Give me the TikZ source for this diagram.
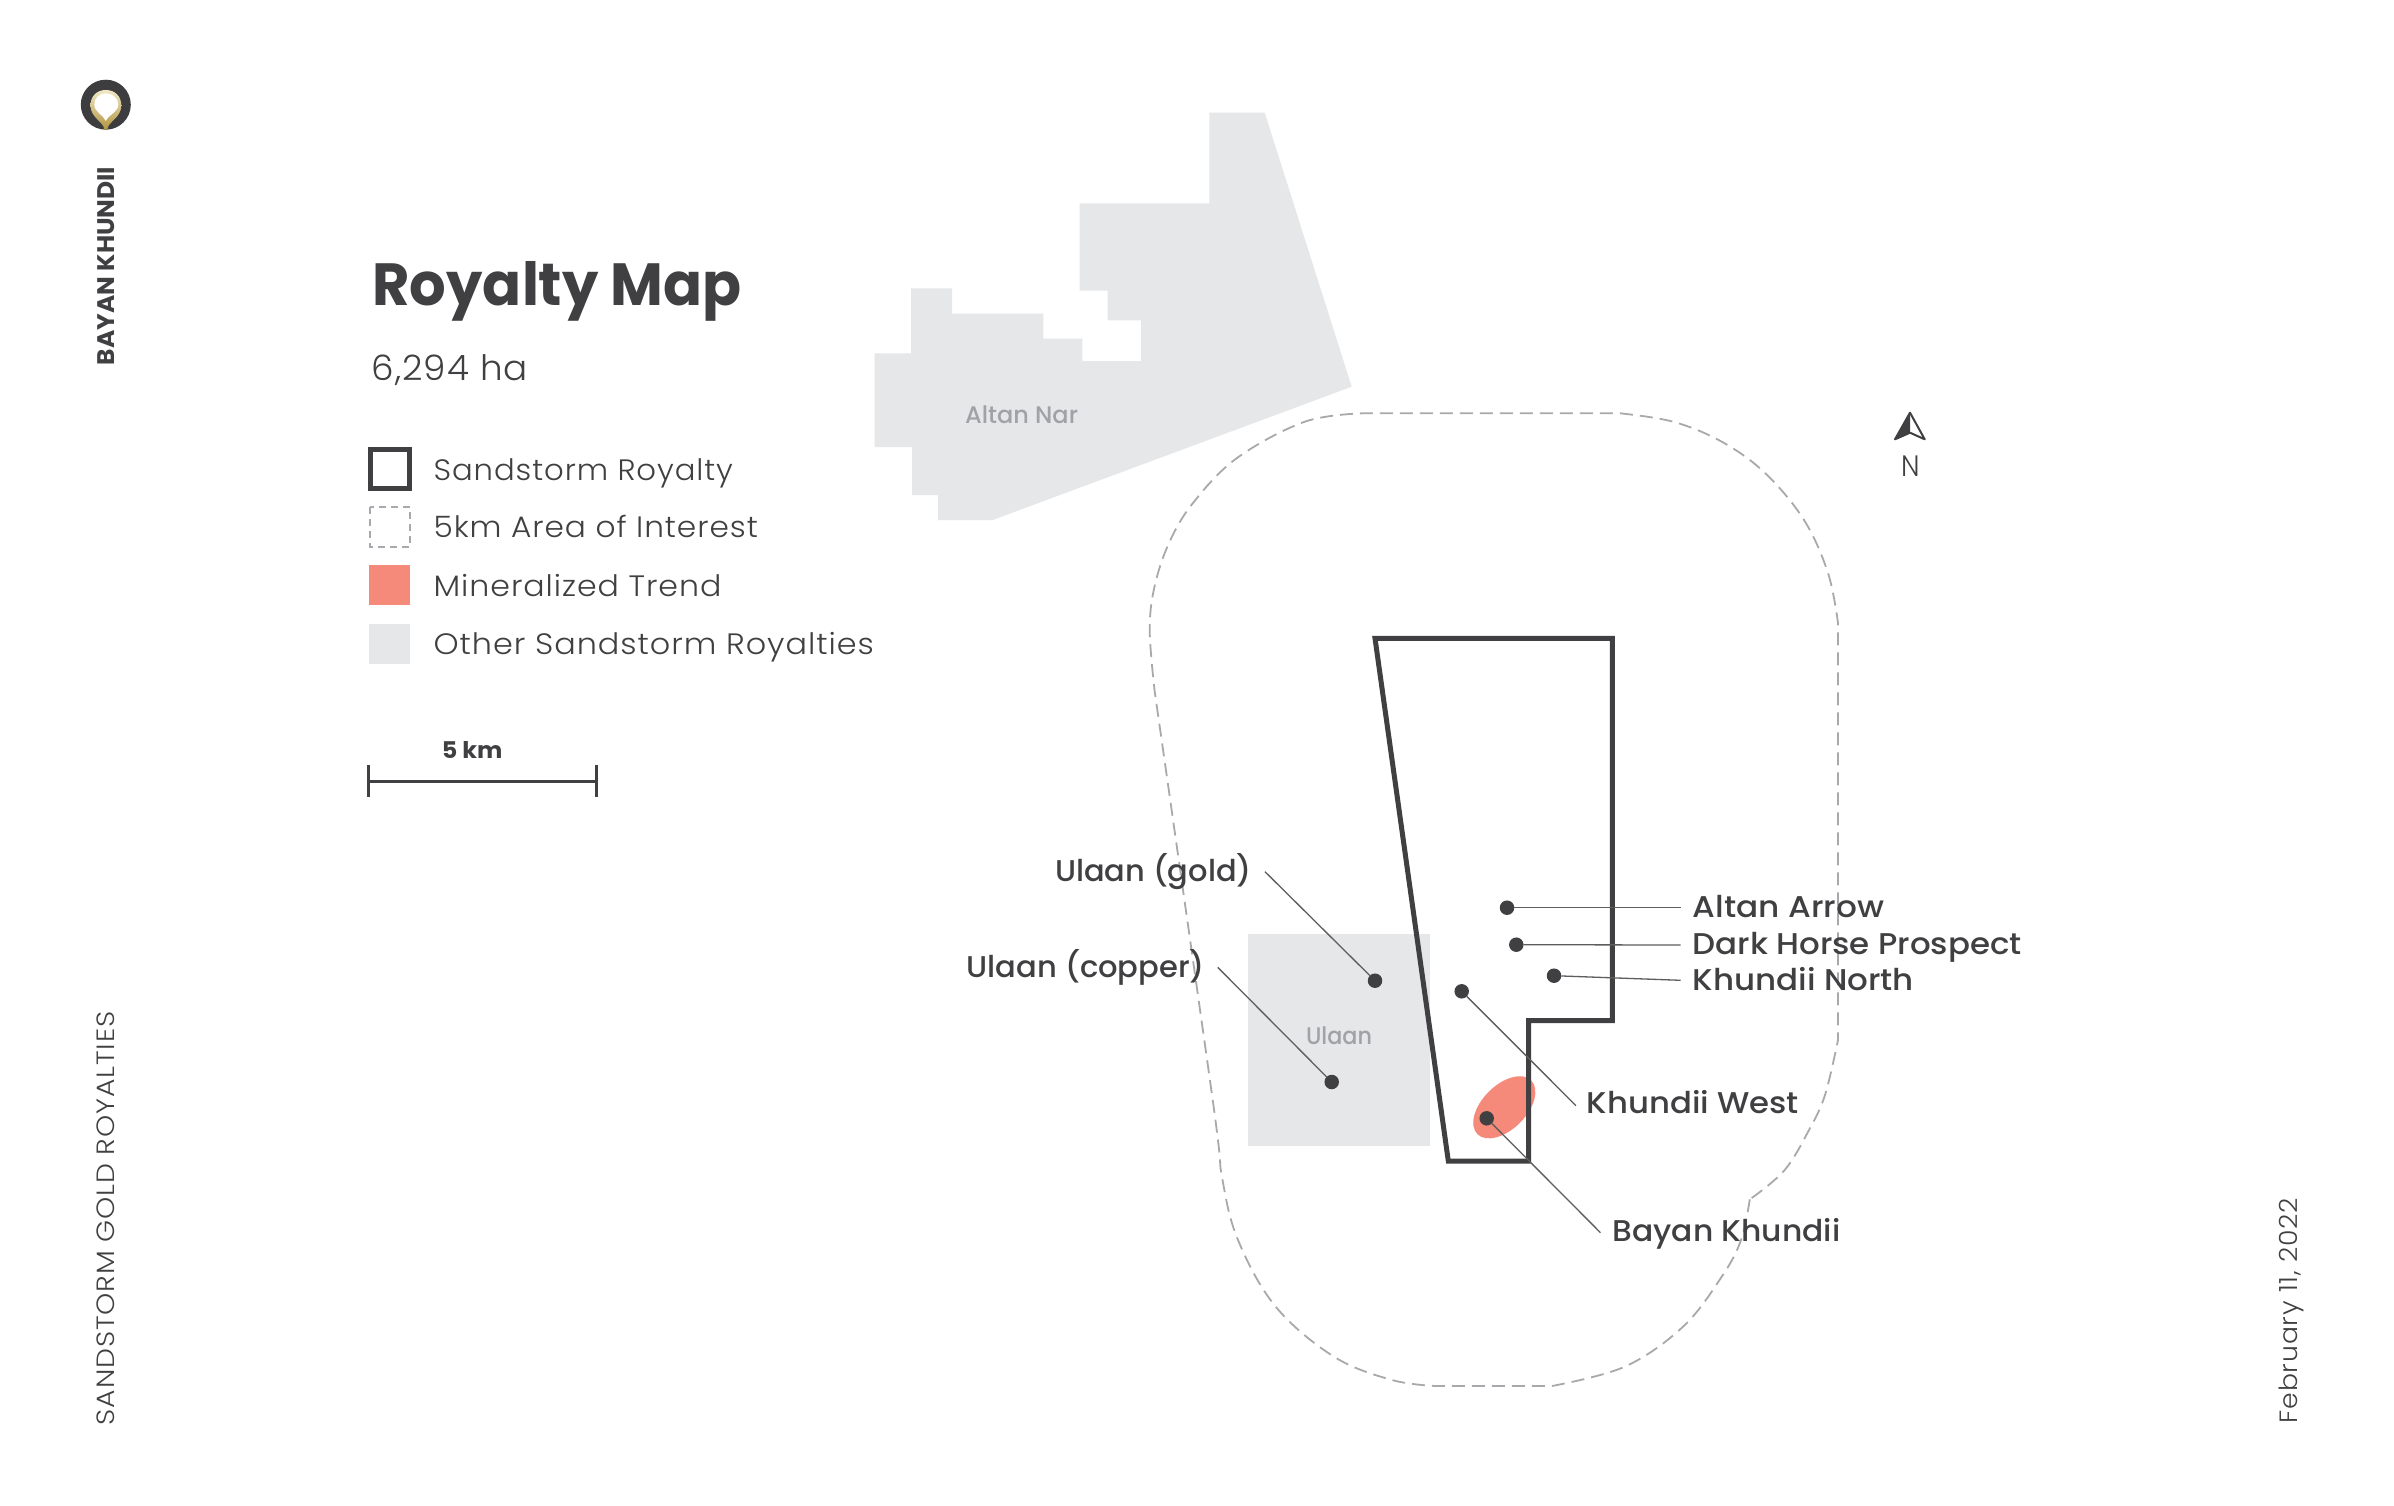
\documentclass[tikz,border=0pt]{standalone}
\usepackage{fontspec}
\usepackage{graphicx}
\setmainfont{Poppins}
\newfontfamily\lightf[LetterSpace=3]{Poppins Light}
\newfontfamily\boldf{Poppins}[BoldFont={Poppins Bold}]
\newfontfamily\medf{Poppins Medium}
\definecolor{ink}{HTML}{404042}
\definecolor{landgray}{HTML}{E6E7E8}
\definecolor{dashgray}{HTML}{A7A9AC}
\definecolor{salmon}{HTML}{F58A7B}
\definecolor{labgray}{HTML}{A0A2A5}
\definecolor{goldtop}{HTML}{F0E8C6}
\definecolor{goldbot}{HTML}{B2953F}
\newcommand{\fw}[2]{\resizebox{#1pt}{\height}{#2}}
\newcommand{\fsz}[1]{\fontsize{#1}{#1}\selectfont}
\tikzset{
  lab/.style={anchor=base west,inner sep=0pt,outer sep=0pt,text=ink},
  vlab/.style={anchor=base west,inner sep=0pt,outer sep=0pt,text=ink,rotate=90},
  maplabel/.style={lab,font=\medf\fsz{30}},
  legendtext/.style={lab,font=\lightf\fsz{29.5}},
  greylabel/.style={lab,text=labgray,font=\medf\fsz{24}},
  land/.style={fill=landgray,draw=none},
  dotn/.style={circle,fill=ink,draw=none,minimum size=14.5pt,inner sep=0pt,outer sep=0pt},
  leader/.style={draw=ink!85,line width=1.3pt},
  royalty/.style={draw=ink,line width=5pt,line join=miter},
  aoi/.style={draw=dashgray,line width=1.8pt,dash pattern=on 13pt off 7pt},
}
\begin{document}
\begin{tikzpicture}[x=1pt,y=-1pt]
\useasboundingbox (0,0) rectangle (2394,1506);
\fill[white] (0,0) rectangle (2394,1506);

% logo
\fill[ink!95!black] (105.8,104.7) circle [radius=25];
\shade[top color=goldtop,bottom color=goldbot]
  (104.2,129.5) .. controls (104.2,122) and (90.5,118) .. (90.5,105.5)
  .. controls (90.5,96) and (97,90) .. (105.8,90)
  .. controls (114.6,90) and (121.3,96) .. (121.3,105.5)
  .. controls (121.3,118) and (107.4,122) .. (107.4,129.5) -- cycle;
\fill[white]
  (105.8,121) .. controls (103.5,115) and (94.3,112) .. (94.3,104.5)
  .. controls (94.3,98) and (99.5,93.3) .. (105.8,93.3)
  .. controls (112.1,93.3) and (118.3,98) .. (118.3,104.5)
  .. controls (118.3,112) and (108.1,115) .. (105.8,121) -- cycle;

% side texts
\node[vlab,font=\boldf\bfseries\fsz{24}] (sideA) at (114,365) {\fw{198.3}{BAYAN KHUNDII}};
\node[vlab,font=\lightf\fsz{25}] (sideB) at (114.3,1425) {\fw{413.3}{SANDSTORM GOLD ROYALTIES}};
\node[vlab,font=\lightf\fsz{25}] (sideC) at (2297.7,1423.3) {\fw{225}{February 11, 2022}};

% title
\node[lab,font=\boldf\bfseries\fsz{59.5}] (title) at (372.5,305.7) {\fw{369.2}{Royalty Map}};
\node[lab,font=\lightf\fsz{35}] (area) at (371.7,380.7) {\fw{156.3}{6,294 ha}};

% legend
\draw[draw=ink,line width=5pt] (370,449.2) rectangle (409.6,488.5);
\draw[draw=dashgray,line width=1.8pt,dash pattern=on 7pt off 5pt] (369.6,507) rectangle (410.2,546.7);
\fill[salmon] (369.3,565.3) rectangle (409.6,605);
\fill[landgray] (369.3,624) rectangle (409.6,663.7);
\node[legendtext] (l1) at (433.6,480) {\fw{299.3}{Sandstorm Royalty}};
\node[legendtext] (l2) at (433.6,537.7) {\fw{324.3}{5km Area of Interest}};
\node[legendtext] (l3) at (433.6,596) {\fw{287.8}{Mineralized Trend}};
\node[legendtext] (l4) at (433.6,654.3) {\fw{440.3}{Other Sandstorm Royalties}};

% scale bar
\node[lab,font=\boldf\bfseries\fsz{23}] (sc) at (441.8,758.7) {\fw{60.7}{5 km}};
\coordinate (scA) at (368.6,781);
\coordinate (scB) at (596.8,781);
\draw[draw=ink,line width=3pt] (scA) -- (scB);
\draw[draw=ink,line width=3pt] (368.6,765) -- (368.6,796.7);
\draw[draw=ink,line width=3pt] (596.8,765) -- (596.8,796.7);

% Altan Nar block
\fill[land] (1209.3,112.7) -- (1264.7,112.7) -- (1351.7,386.7) -- (992.7,520) -- (938,520) -- (938,495)
 -- (912,495) -- (912,447) -- (874.7,447) -- (874.7,353.3) -- (911,353.3) -- (911,288.3) -- (952,288.3)
 -- (952,313.7) -- (1043.3,313.7) -- (1043.3,338.7) -- (1082.3,338.7) -- (1082.3,361) -- (1141,361)
 -- (1141,320.3) -- (1107.7,320.3) -- (1107.7,290.7) -- (1079.7,290.7) -- (1079.7,203.3) -- (1209.3,203.3) -- cycle;
\node[greylabel] (altannar) at (965,423) {\fw{113}{Altan Nar}};

% Ulaan block
\fill[land] (1247.7,933.7) rectangle (1430,1146);
\node[greylabel] (ulaan) at (1306,1044.3) {\fw{66}{Ulaan}};

% area of interest
\draw[aoi] plot[smooth,tension=.6] coordinates {(1751.7,1198) (1784.7,1170) (1809,1130) (1825,1095) (1838,1040)}
 -- (1838,623)
 -- plot[smooth,tension=.6] coordinates {(1838,623) (1828,573) (1804,520) (1765,473) (1721.7,441.7) (1673,421.7) (1620,413.3)}
 -- (1363,413.3)
 -- plot[smooth,tension=.6] coordinates {(1363,413.3) (1304.8,421.7) (1237,458) (1193,503) (1169,543) (1154.5,586.7) (1149.7,630) (1154.5,690)}
 -- plot[smooth,tension=.6] coordinates {(1154.5,690) (1212.7,1100) (1222,1177) (1238,1240) (1275.7,1306.7) (1334,1356.7) (1392,1380) (1435.7,1386)}
 -- (1552,1386)
 -- plot[smooth,tension=.6] coordinates {(1552,1386) (1624.7,1366.7) (1683,1326.7) (1721.7,1276.7) (1741,1240) (1750,1198)}
 -- cycle;

% mineralized trend
\fill[salmon,rotate around={45:(1504.3,1107.3)}] (1504.3,1107.3) circle [x radius=38,y radius=22];

% royalty polygon
\draw[royalty] (1375,638.3) -- (1612.3,638.3) -- (1612.3,1020.7) -- (1528.7,1020.7) -- (1528.7,1161) -- (1448.3,1161) -- cycle;

% dots
\node[dotn] (dGold) at (1375,980.7) {};
\node[dotn] (dCopper) at (1331.7,1082) {};
\node[dotn] (dArrow) at (1507,907.7) {};
\node[dotn] (dHorse) at (1516.3,944.7) {};
\node[dotn] (dNorth) at (1554,975.7) {};
\node[dotn] (dWest) at (1461.7,991.3) {};
\node[dotn] (dBayan) at (1486.7,1118.3) {};

% leader free ends
\coordinate (eGold) at (1265,871.7);
\coordinate (eCopper) at (1217.7,967.3);
\coordinate (eArrow) at (1680.7,907.7);
\coordinate (eHorse) at (1680.7,945);
\coordinate (eNorth) at (1680.7,980.3);
\coordinate (eWest) at (1576,1105.7);
\coordinate (eBayan) at (1600.5,1232.7);
\draw[leader] (dGold) -- (eGold);
\draw[leader] (dCopper) -- (eCopper);
\draw[leader] (dArrow) -- (eArrow);
\draw[leader] (dHorse) -- (eHorse);
\draw[leader] (dNorth) -- (eNorth);
\draw[leader] (dWest) -- (eWest);
\draw[leader] (dBayan) -- (eBayan);

% map labels
\node[maplabel] (tGold) at (1055,881.3) {\fw{196.7}{Ulaan (gold)}};
\node[maplabel] (tCopper) at (966.7,977.3) {\fw{238.3}{Ulaan (copper)}};
\node[maplabel] (tArrow) at (1692.7,917.3) {\fw{191.3}{Altan Arrow}};
\node[maplabel] (tHorse) at (1692.7,954.7) {\fw{329}{Dark Horse Prospect}};
\node[maplabel] (tNorth) at (1692.7,990.3) {\fw{221.3}{Khundii North}};
\node[maplabel] (tWest) at (1586.7,1113) {\fw{212.3}{Khundii West}};
\node[maplabel] (tBayan) at (1612.6,1241.7) {\fw{227.8}{Bayan Khundii}};

% north arrow
\fill[ink] (1910,412.7) -- (1895,439.3) -- (1910,432.7) -- cycle;
\draw[draw=ink,line width=2pt,line join=round] (1910,412.7) -- (1895,439.3) -- (1910,432.7) -- (1924.7,439.3) -- cycle;
\node[lab,font=\lightf\fsz{29.5}] (north) at (1901,476.7) {\fw{18.5}{N}};
\end{tikzpicture}
\end{document}
